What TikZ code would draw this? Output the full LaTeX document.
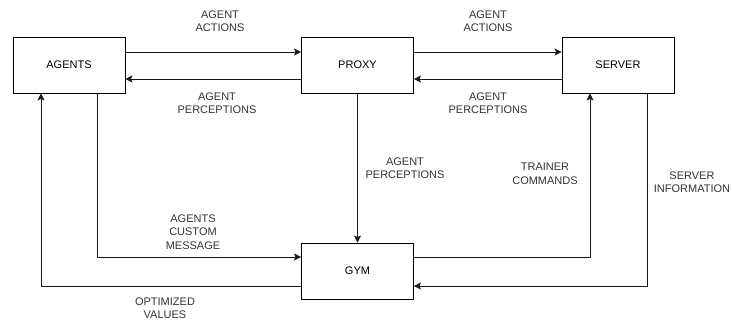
\documentclass[tikz,border=0pt]{standalone}
\usepackage{fontspec}
\setmainfont{Liberation Sans}
\usetikzlibrary{arrows.meta}
\begin{document}
\begin{tikzpicture}[x=1pt,y=-1pt,
  box/.style={draw=black,line width=0.9pt,minimum width=112pt,minimum height=56pt,inner sep=0pt,font=\fontsize{11}{13}\selectfont},
  lbl/.style={align=center,inner sep=0pt,text=black!80,font=\fontsize{11}{13.5}\selectfont},
  conn/.style={draw=black!90,line width=0.9pt,-{Classic TikZ Rightarrow[length=0pt]}},
  arr/.style={draw=black!90,line width=0.9pt,-{Stealth[length=7pt,width=7pt,inset=1.5pt]}},
  ln/.style={draw=black!90,line width=0.9pt}]
\useasboundingbox (0,0) rectangle (732,323);
\node[box] (agents) at (69,65) {AGENTS};
\node[box] (proxy) at (357.5,65) {PROXY};
\node[box] (server) at (618,65) {SERVER};
\node[box] (gym) at (357.5,271) {GYM};

\coordinate (a1) at (41,286);
\coordinate (a2) at (97,257);
\coordinate (s1) at (590,257);
\coordinate (s2) at (647,286);

\draw[arr] (agents.east |- 0,52) -- (proxy.west |- 0,52);
\draw[arr] (proxy.west |- 0,79) -- (agents.east |- 0,79);
\draw[arr] (proxy.east |- 0,52) -- (server.west |- 0,52);
\draw[arr] (server.west |- 0,79) -- (proxy.east |- 0,79);
\draw[arr] (proxy.south) -- (gym.north);
\draw[arr] (agents.south -| a2) -- (a2) -- (gym.west |- a2);
\draw[arr] (gym.east |- s1) -- (s1) -- (server.south -| s1);
\draw[arr] (server.south -| s2) -- (s2) -- (gym.east |- s2);
\draw[arr] (gym.west |- a1) -- (a1) -- (agents.south -| a1);

\node[lbl] (l1) at (220,21) {AGENT\\ACTIONS};
\node[lbl] (l2) at (217,103) {AGENT\\PERCEPTIONS};
\node[lbl] (l3) at (488,21) {AGENT\\ACTIONS};
\node[lbl] (l4) at (488,103) {AGENT\\PERCEPTIONS};
\node[lbl] (l5) at (405,168) {AGENT\\PERCEPTIONS};
\node[lbl] (l6) at (545,174) {TRAINER\\COMMANDS};
\node[lbl] (l7) at (692,182) {SERVER\\INFORMATION};
\node[lbl] (l8) at (193,232) {AGENTS\\CUSTOM\\MESSAGE};
\node[lbl] (l9) at (165,308) {OPTIMIZED\\VALUES};
\end{tikzpicture}
\end{document}
